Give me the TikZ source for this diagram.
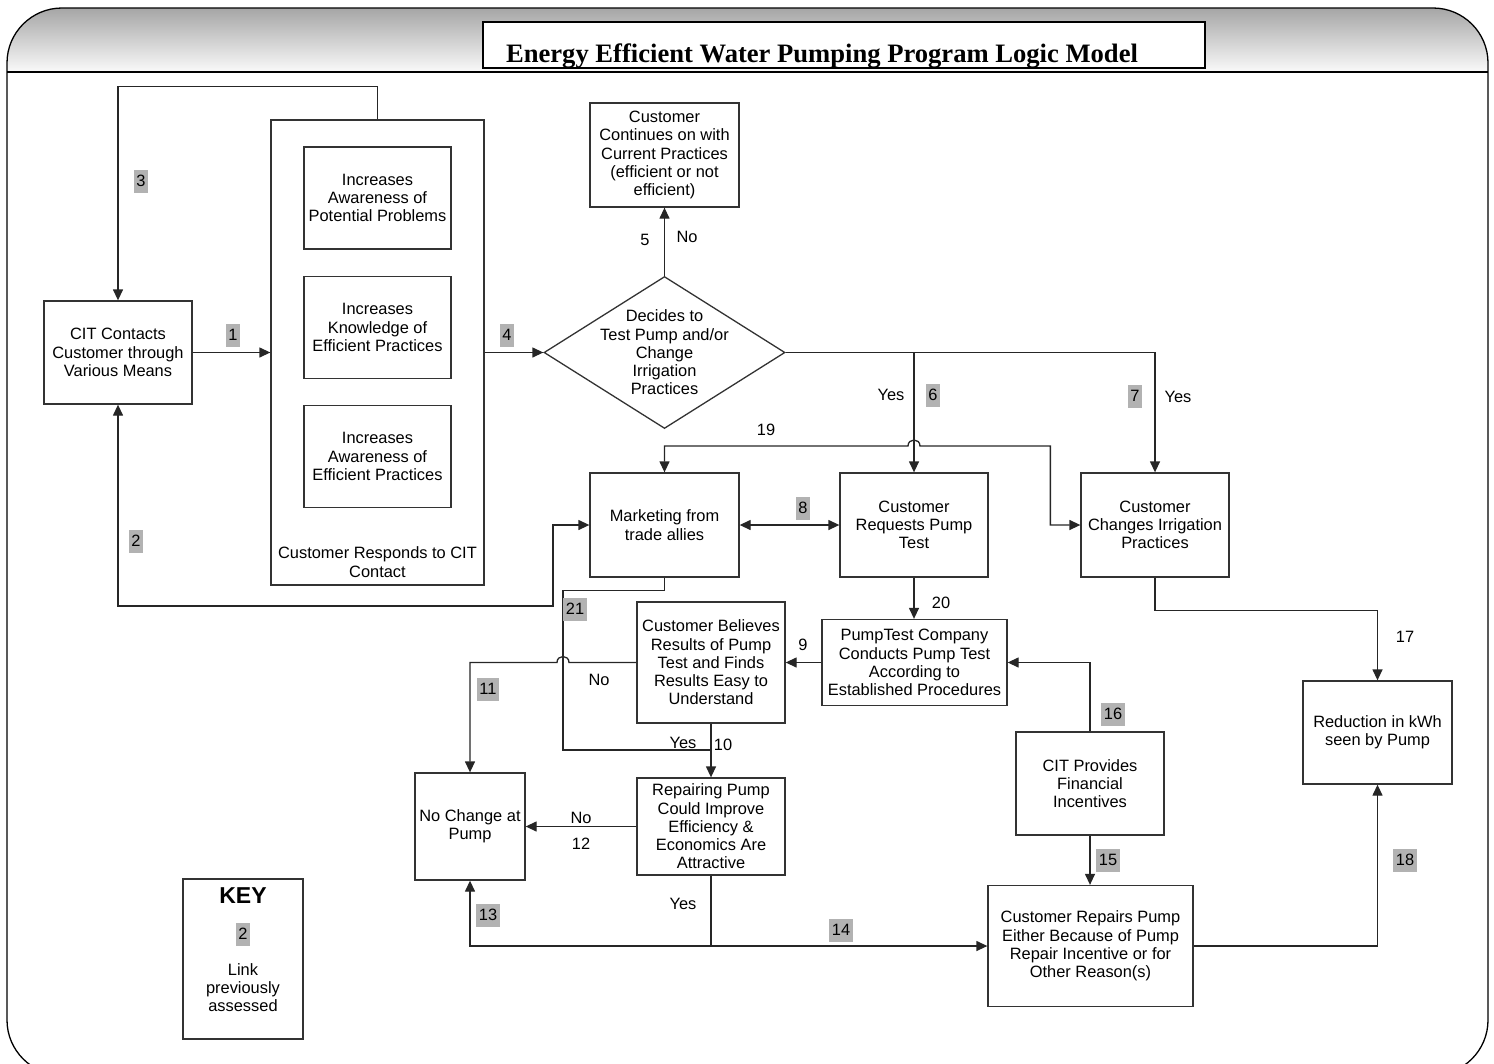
\documentclass[tikz,border=0pt]{standalone}
\usepackage{fontspec}
\setmainfont{Liberation Sans}
\newfontfamily\titlefont{Liberation Serif}
\usepackage{tikz}
\usetikzlibrary{arrows.meta,positioning,shapes.geometric}

\begin{document}
\begin{tikzpicture}[x=1pt, y=-1pt, line width=1.3pt,
    font=\fontsize{16.4}{18.3}\selectfont,
    box/.style={draw=black!80, fill=white, align=center, inner sep=2pt},
    num/.style={fill=black!30, inner xsep=2.5pt, inner ysep=0pt, minimum height=23},
    arr/.style={draw=black!85, -{Triangle[length=11pt,width=10pt]}},
    twoway/.style={draw=black!85, {Triangle[length=11pt,width=10pt]}-{Triangle[length=11pt,width=10pt]}}]
    \useasboundingbox (0,0) rectangle (1494,1063);

    % frame and title band
    \begin{scope}
        \clip[rounded corners=55] (7,8) rectangle (1488,1075);
        \shade[top color=black!35, bottom color=black!2] (7,8) rectangle (1488,72);
    \end{scope}
    \draw[rounded corners=55] (7,8) rectangle (1488,1075);
    \draw (7,72) -- (1488,72);
    \node[draw, line width=2pt, fill=white, minimum width=722, minimum height=46] (TTL) at (844,45) {};
    \begin{scope}
        \clip (TTL.south west) rectangle (TTL.north east);
        \node[font=\titlefont\bfseries\fontsize{26.6}{30}\selectfont, anchor=base] (TTLTXT) at (822,62) {Energy Efficient Water Pumping Program Logic Model};
    \end{scope}

    % boxes
    \node[box, minimum width=148, minimum height=103] (CIT) at (118,352.5) {CIT Contacts\\Customer through\\Various Means};
    \node[box, minimum width=213, minimum height=465] (RESP) at (377.5,352.5) {};
    \node[align=center] (RESPT) at (377.5,562) {Customer Responds to CIT\\Contact};
    \node[box, minimum width=147, minimum height=102] (AW1) at (377.5,198) {Increases\\Awareness of\\Potential Problems};
    \node[box, minimum width=147, minimum height=102] (KN) at (377.5,327.5) {Increases\\Knowledge of\\Efficient Practices};
    \node[box, minimum width=147, minimum height=102] (AW2) at (377.5,456.5) {Increases\\Awareness of\\Efficient Practices};
    \node[box, minimum width=149, minimum height=104] (CONT) at (664.5,155) {Customer\\Continues on with\\Current Practices\\(efficient or not\\efficient)};
    \node[draw=black!80, diamond, minimum width=241, minimum height=152, inner sep=0pt] (DEC) at (664.5,352.5) {};
    \node[align=center] (DECT) at (664.5,352.5) {Decides to\\Test Pump and/or\\Change\\Irrigation\\Practices};
    \node[box, minimum width=149, minimum height=104] (MKT) at (664.5,525) {Marketing from\\trade allies};
    \node[box, minimum width=148, minimum height=104] (REQ) at (914,525) {Customer\\Requests Pump\\Test};
    \node[box, minimum width=148, minimum height=104] (CHG) at (1155,525) {Customer\\Changes Irrigation\\Practices};
    \node[box, minimum width=185, minimum height=86] (PT) at (914.5,662.5) {PumpTest Company\\Conducts Pump Test\\According to\\Established Procedures};
    \node[box, minimum width=148, minimum height=121] (BLV) at (711,662.5) {Customer Believes\\Results of Pump\\Test and Finds\\Results Easy to\\Understand};
    \node[box, minimum width=148, minimum height=97] (RPG) at (711,826.5) {Repairing Pump\\Could Improve\\Efficiency \&\\Economics Are\\Attractive};
    \node[box, minimum width=110, minimum height=107] (NOCH) at (470,826.5) {No Change at\\Pump};
    \node[box, minimum width=148, minimum height=103] (FIN) at (1090,783.5) {CIT Provides\\Financial\\Incentives};
    \node[box, minimum width=205, minimum height=121] (REP) at (1090.5,946) {Customer Repairs Pump\\Either Because of Pump\\Repair Incentive or for\\Other Reason(s)};
    \node[box, minimum width=149, minimum height=103] (RED) at (1377.5,732.5) {Reduction in kWh\\seen by Pump};

    % key
    \node[box, minimum width=120, minimum height=160] (KEY) at (243,959) {};
    \node[font=\bfseries\fontsize{23}{26}\selectfont] (KEYT) at (243,896) {KEY};
    \node[num] (KEYN) at (243,934) {2};
    \node[align=center] (KEYL) at (243,987.5) {Link\\previously\\assessed};

    % links
    \coordinate (J21) at (711,750);
    \coordinate (J14) at (711,946);
    \draw[arr] (CIT) -- (RESP);
    \draw[twoway] (CIT.south) |- (553,606) |- (MKT.west);
    \draw[arr] (RESP.north) -- ++(0,-33) -| (CIT.north);
    \draw[arr] (RESP) -- (DEC);
    \draw[arr] (DEC.north) -- (CONT.south);
    \draw[arr] (DEC.east) -| (REQ.north);
    \draw[arr] (DEC.east) -| (CHG.north);
    \draw[twoway] (CHG.west) -- ++(-30,0) |- (920,446) .. controls (920,438) and (908,438) .. (908,446) -| (MKT.north);
    \draw[twoway] (MKT) -- (REQ);
    \draw[arr] (REQ.south) -- (REQ.south |- PT.north);
    \draw[arr] (PT.west) -- (BLV.east);
    \draw[arr] (FIN.north) |- (PT.east);
    \draw[arr] (FIN.south) -- (FIN.south |- REP.north);
    \draw[arr] (BLV) -- (RPG);
    \draw[black!85] (MKT.south) -- ++(0,13) -| (563,750) -- (J21);
    \draw[arr] (BLV.west) -- (569,662.5) .. controls (569,654.5) and (557,654.5) .. (557,662.5) -| (NOCH.north);
    \draw[arr] (RPG) -- (NOCH);
    \draw[black!85] (RPG.south) -- (J14);
    \draw[arr] (J14) -| (NOCH.south);
    \draw[arr] (J14) -- (J14 -| REP.west);
    \draw[arr] (CHG.south) -- ++(0,33) -| (RED.north);
    \draw[arr] (REP.east) -| (RED.south);

    % link labels
    \node[num] (N1) at (233,335) {1};
    \node[num] (N2) at (136,541) {2};
    \node[num] (N3) at (141,181) {3};
    \node[num] (N4) at (507,335) {4};
    \node (N5) at (645,240) {5};
    \node (NO5) at (687,237) {No};
    \node (Y6) at (891,395) {Yes};
    \node[num] (N6) at (933,395) {6};
    \node[num] (N7) at (1135,396) {7};
    \node (Y7) at (1178,397) {Yes};
    \node[num] (N8) at (803,508) {8};
    \node (N9) at (803,645) {9};
    \node (Y10) at (683,743) {Yes};
    \node (N10) at (723,745) {10};
    \node (NO11) at (599,680) {No};
    \node[num] (N11) at (488,689) {11};
    \node (NO12) at (581,818) {No};
    \node (N12) at (581,844) {12};
    \node (Y13) at (683,904) {Yes};
    \node[num] (N13) at (488,915) {13};
    \node[num] (N14) at (841,930) {14};
    \node[num] (N15) at (1108,860) {15};
    \node[num] (N16) at (1113,714) {16};
    \node (N17) at (1405,637) {17};
    \node[num] (N18) at (1405,860) {18};
    \node (N19) at (766,430) {19};
    \node (N20) at (941,603) {20};
    \node[num] (N21) at (575,609) {21};
\end{tikzpicture}
\end{document}
